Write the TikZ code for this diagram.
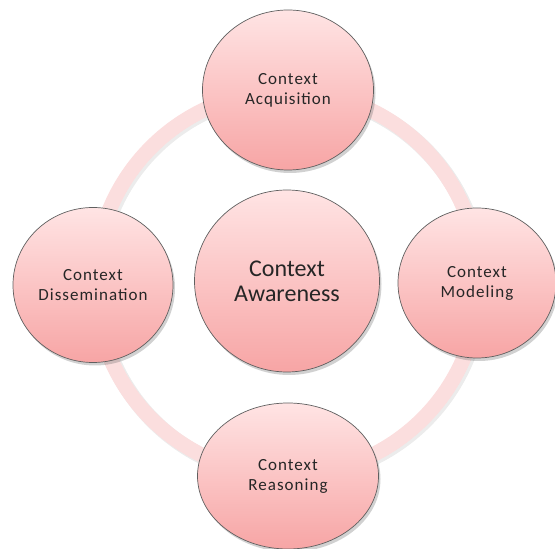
\documentclass[tikz,border=0pt]{standalone}
\usepackage{fontspec}
\setmainfont{Carlito}
\newfontfamily\smallfont{Carlito}[LetterSpace=6]
\usetikzlibrary{shapes.geometric,shadows}
\definecolor{ringpink}{RGB}{251,222,222}
\definecolor{toppink}{RGB}{255,228,228}
\definecolor{botpink}{RGB}{247,165,165}
\definecolor{edgegray}{RGB}{95,95,95}
\begin{document}
\begin{tikzpicture}[x=1pt,y=1pt,
  bubble/.style={ellipse, draw=edgegray, line width=0.7pt, top color=toppink, bottom color=botpink,
    align=center, font=\smallfont\fontsize{17}{20}\selectfont, text=black!85, inner sep=0pt,
    drop shadow={opacity=0.3, shadow xshift=2pt, shadow yshift=-3pt, fill=black!60}},
  bigbubble/.style={bubble, font=\normalfont\fontsize{24}{25}\selectfont}]
\useasboundingbox (0,0) rectangle (555,549);
\clip (0,0) rectangle (555,549);
% ring
\draw[black!30, opacity=0.25, line width=16pt] (289,264) circle (192pt);
\draw[ringpink, line width=15pt] (287,266) circle (192pt);
% nodes
\node[bigbubble, minimum width=185pt, minimum height=182pt] (aw) at (287,268) {Context\\Awareness};
\node[bubble, minimum width=171pt, minimum height=160pt] (acq) at (288,459) {Context\\Acquisition};
\node[bubble, minimum width=160pt, minimum height=155pt] (dis) at (93,264) {Context\\Dissemination};
\node[bubble, minimum width=158pt, minimum height=150pt] (mod) at (477,266) {Context\\Modeling};
\node[bubble, minimum width=181pt, minimum height=146pt] (rea) at (288,73) {Context\\Reasoning};
\end{tikzpicture}
\end{document}
